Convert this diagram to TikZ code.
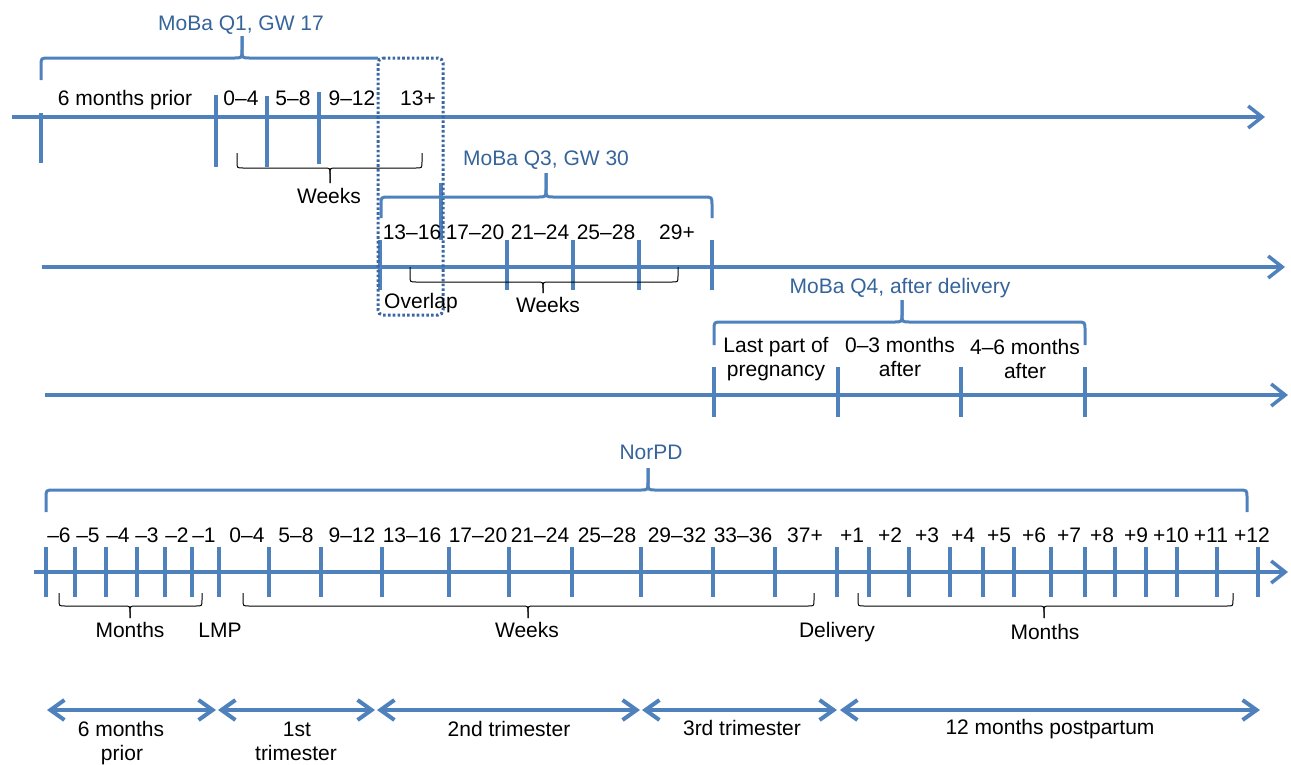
\documentclass[tikz,border=0pt]{standalone}
\usepackage{fontspec}
\setmainfont{Liberation Sans}
\usetikzlibrary{arrows.meta}
\definecolor{lineblue}{HTML}{4F81BD}
\definecolor{textblue}{HTML}{35649A}
\definecolor{dotblue}{HTML}{3A66A2}
\newcommand\tlhalf[7]{%
 \pgfmathsetmacro\tlbd{#7*sign(#5-#4)}%
 \pgfmathsetmacro\tlbs{#7*sign(#2-#3)}%
 \draw[#1] (#3,#6) -- (#3,{#4-\tlbd}) .. controls (#3,#4) .. ({#3+\tlbs},#4) -- ({#2-\tlbs},#4) .. controls (#2,#4) .. (#2,{#4+\tlbd}) -- (#2,#5);
}
\newcommand\tlbrace[8]{\tlhalf{#1}{#2}{#4}{#5}{#6}{#7}{#8}\tlhalf{#1}{#3}{#4}{#5}{#6}{#7}{#8}}
\tikzset{
 axis/.style={lineblue, line width=3.5pt, -{Straight Barb[length=14pt,width=22pt]}},
 tick/.style={lineblue, line width=3.5pt},
 bbrace/.style={lineblue, line width=3pt},
 kbrace/.style={black, line width=1pt},
 dotbox/.style={dotblue, line width=3pt, dash pattern=on 2.6pt off 2.2pt},
 period/.style={lineblue, line width=4pt, {Straight Barb[length=14pt,width=20pt]}-{Straight Barb[length=14pt,width=20pt]}},
 lbl/.style={font=\fontsize{21}{24}\selectfont, anchor=base, inner sep=0pt},
 blbl/.style={lbl, text=textblue},
}
\begin{document}
\begin{tikzpicture}[x=1pt,y=-1pt]
\useasboundingbox (0,0) rectangle (1291,764);
% axes
\coordinate (a1s) at (12,117); \coordinate (a1e) at (1265,117);
\coordinate (a2s) at (42,267); \coordinate (a2e) at (1285,267);
\coordinate (a3s) at (45,395); \coordinate (a3e) at (1288,395);
\coordinate (a4s) at (34,572); \coordinate (a4e) at (1288,572);
\draw[axis] (a1s) -- (a1e);
\draw[axis] (a2s) -- (a2e);
\draw[axis] (a3s) -- (a3e);
\draw[axis] (a4s) -- (a4e);
% ticks line 1
\foreach \x/\ya/\yb in {41/113/163, 216/95/167, 267/96/167, 319/92/164}
  \draw[tick] (\x,\ya) -- (\x,\yb);
% ticks line 2
\foreach \x in {380,507,573,639,712}
  \draw[tick] (\x,240) -- (\x,290);
\draw[tick] (441,183) -- (441,240);
% ticks line 3
\foreach \x in {714,838,961,1085}
  \draw[tick] (\x,367) -- (\x,417);
% ticks line 4
\foreach \x in {46,75,106,137,165,192,219,269,321,382,449,509,572,641,713,775,837,869,909,950,983,1014,1051,1085,1115,1146,1177,1217,1258}
  \draw[tick] (\x,547) -- (\x,597);
% Q1 brace (right part replaced by dotted box)
\tlhalf{bbrace}{41}{242}{58}{80}{36}{8}
\draw[bbrace] (242,36) -- (242,50) .. controls (242,58) .. (250,58) -- (378,58);
\draw[dotbox, rounded corners=5pt] (378,58) -- (443,58) -- (443,315) -- (378,315) -- cycle;
% blue braces
\tlbrace{bbrace}{381}{712}{546}{197}{218}{173}{8}
\tlbrace{bbrace}{714}{1085}{902}{322}{345}{300}{8}
\tlbrace{bbrace}{46}{1247}{648}{490}{512}{468}{8}
% black braces
\tlbrace{kbrace}{237}{422}{330}{168}{153}{183}{6}
\tlbrace{kbrace}{410}{678}{543}{282}{267}{293}{6}
\tlbrace{kbrace}{59}{202}{130}{606}{593}{618}{6}
\tlbrace{kbrace}{243}{814}{528}{606}{593}{618}{6}
\tlbrace{kbrace}{858}{1233}{1044}{606}{593}{618}{6}
% labels top
\node[blbl] (q1) at (241,30) {MoBa Q1, GW 17};
\node[lbl] (l1a) at (125,105) {6 months prior};
\node[lbl] (l1b) at (241,105) {0–4};
\node[lbl] (l1c) at (293,105) {5–8};
\node[lbl] (l1d) at (352,105) {9–12};
\node[lbl] (l1e) at (418,105) {13+};
\node[lbl] (w1) at (329,203) {Weeks};
\node[blbl] (q3) at (546,165) {MoBa Q3, GW 30};
\node[lbl] (l2a) at (412,239) {13–16};
\node[lbl] (l2b) at (475,239) {17–20};
\node[lbl] (l2c) at (540,239) {21–24};
\node[lbl] (l2d) at (606,239) {25–28};
\node[lbl] (l2e) at (677,239) {29+};
\node[lbl] (ov) at (421,308) {Overlap};
\node[lbl] (w2) at (548,312) {Weeks};
\node[blbl] (q4) at (900,293) {MoBa Q4, after delivery};
\node[lbl] (l3a) at (776,352) {Last part of};
\node[lbl] (l3b) at (776,376) {pregnancy};
\node[lbl] (l3c) at (900,352) {0–3 months};
\node[lbl] (l3d) at (900,376) {after};
\node[lbl] (l3e) at (1025,354) {4–6 months};
\node[lbl] (l3f) at (1025,378) {after};
\node[blbl] (np) at (651,459) {NorPD};
% labels line 4
\foreach \x/\t [count=\i] in {59/–6, 88/–5, 118/–4, 147/–3, 177/–2, 204/–1, 247/0–4, 296/5–8, 352/9–12, 412/13–16, 478/17–20, 540/21–24, 607/25–28, 677/29–32, 743/33–36, 805/37+, 852/+1, 890/+2, 927/+3, 963/+4, 999/+5, 1034/+6, 1069/+7, 1102/+8, 1136/+9, 1171/+10, 1211/+11, 1252/+12}
  \node[lbl] (n\i) at (\x,542) {\t};
\node[lbl] (m1) at (130,637) {Months};
\node[lbl] (lmp) at (220,637) {LMP};
\node[lbl] (w3) at (527,637) {Weeks};
\node[lbl] (del) at (837,637) {Delivery};
\node[lbl] (m2) at (1045,639) {Months};
% bottom periods
\coordinate (p1s) at (47,710); \coordinate (p1e) at (216,710);
\coordinate (p2s) at (218,710); \coordinate (p2e) at (375,710);
\coordinate (p3s) at (377,710); \coordinate (p3e) at (640,710);
\coordinate (p4s) at (642,710); \coordinate (p4e) at (837,710);
\coordinate (p5s) at (840,710); \coordinate (p5e) at (1260,710);
\draw[period] (p1s) -- (p1e);
\draw[period] (p2s) -- (p2e);
\draw[period] (p3s) -- (p3e);
\draw[period] (p4s) -- (p4e);
\draw[period] (p5s) -- (p5e);
\node[lbl] (b1a) at (121,736) {6 months};
\node[lbl] (b1b) at (122,760) {prior};
\node[lbl] (b2a) at (297,736) {1st};
\node[lbl] (b2b) at (296,760) {trimester};
\node[lbl] (b3) at (509,736) {2nd trimester};
\node[lbl] (b4) at (742,735) {3rd trimester};
\node[lbl] (b5) at (1050,734) {12 months postpartum};
\end{tikzpicture}
\end{document}
